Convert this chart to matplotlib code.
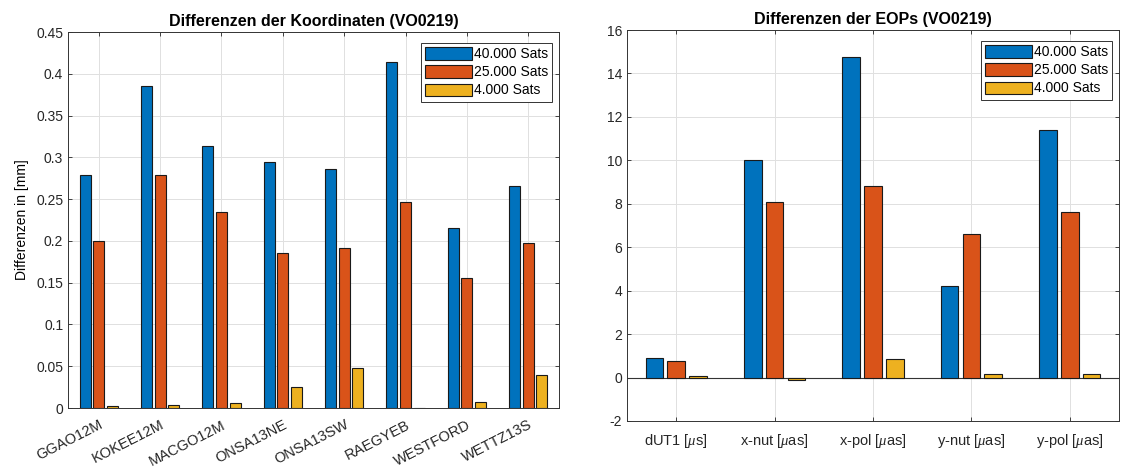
import matplotlib
matplotlib.use("Agg")
import matplotlib.pyplot as plt
import numpy as np
from matplotlib.ticker import FuncFormatter, MultipleLocator

plt.rcParams['font.family'] = ['Liberation Sans', 'DejaVu Sans']
plt.rcParams['mathtext.fontset'] = 'custom'
plt.rcParams['mathtext.it'] = 'Liberation Serif:italic'

series_names = ['40.000 Sats', '25.000 Sats', '4.000 Sats']
colors = ['#0072BD', '#D95319', '#EDB120']

stations = ['GGAO12M', 'KOKEE12M', 'MACGO12M', 'ONSA13NE', 'ONSA13SW',
            'RAEGYEB', 'WESTFORD', 'WETTZ13S']
coord_40k = [0.279, 0.385, 0.313, 0.295, 0.286, 0.414, 0.216, 0.266]
coord_25k = [0.200, 0.279, 0.235, 0.186, 0.192, 0.247, 0.155, 0.197]
coord_4k = [0.002, 0.004, 0.006, 0.025, 0.048, 0.0, 0.007, 0.039]

eops = [r'dUT1 [$\mu$s]', r'x-nut [$\mu$as]', r'x-pol [$\mu$as]',
        r'y-nut [$\mu$as]', r'y-pol [$\mu$as]']
eop_40k = [0.9, 10.0, 14.75, 4.2, 11.4]
eop_25k = [0.75, 8.1, 8.8, 6.6, 7.6]
eop_4k = [0.05, -0.12, 0.85, 0.15, 0.15]

fig = plt.figure(figsize=(11.25, 4.75), dpi=100)
ax1 = fig.add_axes([68/1125, 1-408/475, 491/1125, 376/475])
ax2 = fig.add_axes([627/1125, 1-421/475, 492/1125, 391/475])

def grouped(ax, cats, data, ylim, ystep, fmt):
    n = len(cats)
    x = np.arange(1, n + 1)
    off = 0.222
    w = 0.178
    for i, (vals, c, name) in enumerate(zip(data, colors, series_names)):
        ax.bar(x + (i - 1) * off, vals, width=w, color=c, edgecolor='#1a1a1a',
               linewidth=0.8, label=name, zorder=3)
    ax.set_xlim(0.5, n + 0.5)
    ax.set_ylim(*ylim)
    ax.set_xticks(x)
    ax.yaxis.set_major_locator(MultipleLocator(ystep))
    ax.yaxis.set_major_formatter(FuncFormatter(fmt))
    ax.grid(True, color='#e0e0e0', linewidth=0.7, zorder=0)
    ax.set_axisbelow(True)
    ax.tick_params(direction='in', top=True, right=True, length=3,
                   colors='#262626', width=0.6)
    ax.tick_params(axis='y', labelsize=10)
    ax.tick_params(axis='x', labelsize=10.5)
    for s in ax.spines.values():
        s.set_color('#333333')
        s.set_linewidth(0.7)
    ax.set_facecolor('white')
    h_ax = ax.get_position().height * 475
    w_ax = ax.get_position().width * 1125
    leg = ax.legend(loc='upper right', fontsize=10, handlelength=3.4,
                    handleheight=1.0, handletextpad=0.1, borderpad=0.3,
                    labelspacing=0.3, fancybox=False, framealpha=1,
                    edgecolor='#333333', borderaxespad=0,
                    bbox_to_anchor=(1 - 7 / w_ax, 1 - 11 / h_ax))
    leg.get_frame().set_linewidth(0.7)
    return x

fmt = lambda v, p: ('%g' % round(v, 4))
grouped(ax1, stations, [coord_40k, coord_25k, coord_4k], (0, 0.45), 0.05, fmt)
ax1.set_xticklabels(stations, rotation=27, ha='right', rotation_mode='anchor')
ax1.tick_params(axis='x', pad=7)
ax1.set_ylabel('Differenzen in [mm]', fontsize=10, labelpad=5)
ax1.set_title('Differenzen der Koordinaten (VO0219)', fontsize=11.5,
              fontweight='bold', pad=4)

grouped(ax2, eops, [eop_40k, eop_25k, eop_4k], (-2, 16), 2, fmt)
ax2.set_xticklabels(eops)
ax2.tick_params(axis='x', pad=8)
ax2.axhline(0, color='#333333', linewidth=0.8, zorder=2)
ax2.set_title('Differenzen der EOPs (VO0219)', fontsize=11.5,
              fontweight='bold', pad=4)

fig.savefig('out.png', dpi=100, facecolor='white')
